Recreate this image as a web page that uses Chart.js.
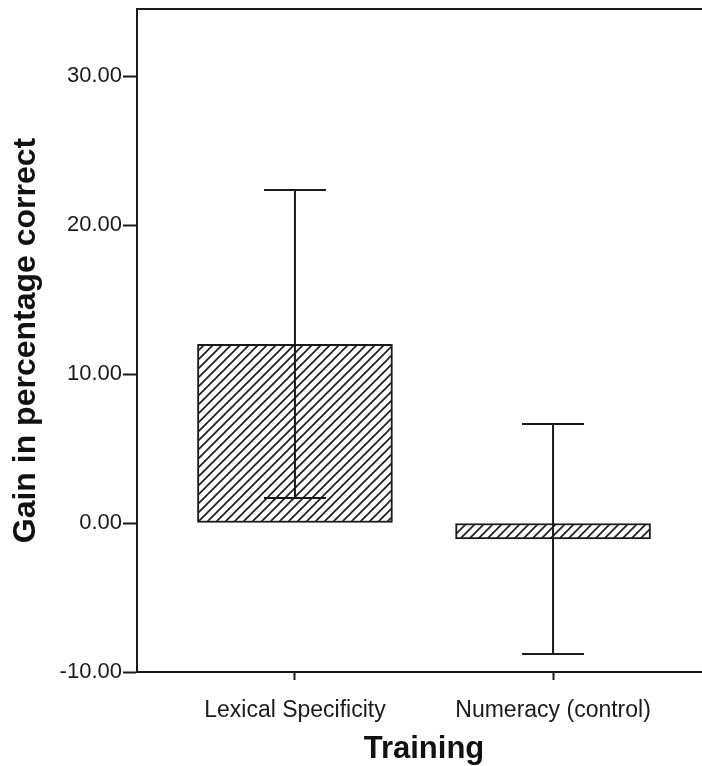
<!DOCTYPE html>
<html lang="en">
  <head>
    <meta charset="UTF-8" />
    <title>Gain by Training</title>
    <script src="https://cdn.jsdelivr.net/npm/chart.js"></script>
    <style>
      html, body {
        margin: 0;
        padding: 0;
        background: #fff;
        overflow: hidden;
      }
      #chartContainer {
        width: 720px;
        height: 766px;
      }
    </style>
  </head>
  <body>
    <div id="chartContainer">
      <canvas id="gainChart" width="720" height="766"></canvas>
    </div>

    <script>
      const categories = ["Lexical Specificity", "Numeracy (control)"];
      const meanGain = [12.0, -1.07];
      const ciLow = [1.68, -8.8];
      const ciHigh = [22.35, 6.64];
      const yTicks = [-10, 0, 10, 20, 30];

      const INK = "#1a1a1a";
      const FONT = "'Liberation Sans', Arial, Helvetica, sans-serif";

      function makeHatch() {
        const size = 9;
        const tile = document.createElement("canvas");
        tile.width = size;
        tile.height = size;
        const c = tile.getContext("2d");
        c.fillStyle = "#fff";
        c.fillRect(0, 0, size, size);
        c.strokeStyle = INK;
        c.lineWidth = 1.6;
        c.beginPath();
        c.moveTo(0, size);
        c.lineTo(size, 0);
        c.moveTo(-2, 2);
        c.lineTo(2, -2);
        c.moveTo(size - 2, size + 2);
        c.lineTo(size + 2, size - 2);
        c.stroke();
        return c.createPattern(tile, "repeat");
      }

      // error bars + top frame line
      const extrasPlugin = {
        id: "extras",
        afterDatasetsDraw(chart) {
          const { ctx, chartArea, scales } = chart;
          const xs = scales.x;
          const ys = scales.y;
          ctx.save();
          ctx.strokeStyle = INK;
          ctx.lineWidth = 2;
          ctx.beginPath();
          ctx.moveTo(chartArea.left, chartArea.top);
          ctx.lineTo(chart.width, chartArea.top);
          ctx.stroke();

          const capHalf = 31;
          categories.forEach((cat, i) => {
            const x = xs.getPixelForValue(i);
            const yLo = ys.getPixelForValue(ciLow[i]);
            const yHi = ys.getPixelForValue(ciHigh[i]);
            ctx.beginPath();
            ctx.moveTo(x, yLo);
            ctx.lineTo(x, yHi);
            ctx.moveTo(x - capHalf, yLo);
            ctx.lineTo(x + capHalf, yLo);
            ctx.moveTo(x - capHalf, yHi);
            ctx.lineTo(x + capHalf, yHi);
            ctx.stroke();
          });
          ctx.restore();
        },
      };

      const ctx = document.getElementById("gainChart").getContext("2d");
      const chart = new Chart(ctx, {
        type: "bar",
        data: {
          datasets: [
            {
              data: meanGain.map((v, i) => ({ x: i, y: v })),
              backgroundColor: makeHatch(),
              borderColor: INK,
              borderWidth: 2,
              borderSkipped: false,
              barThickness: 195,
            },
          ],
        },
        options: {
          responsive: false,
          animation: false,
          layout: {
            padding: { top: 9, right: 9, left: 0, bottom: 0 },
          },
          plugins: {
            legend: { display: false },
            tooltip: { enabled: false },
          },
          scales: {
            x: {
              type: "linear",
              min: -0.612,
              max: 1.612,
              offset: false,
              afterBuildTicks: (scale) => {
                scale.ticks = categories.map((c, i) => ({ value: i }));
              },
              afterFit: (scale) => {
                scale.height = 94;
                scale.paddingLeft = 0;
                scale.paddingRight = 0;
              },
              ticks: {
                callback: (v) => categories[v],
                color: INK,
                font: { family: FONT, size: 23 },
                padding: 17,
                maxRotation: 0,
                autoSkip: false,
              },
              grid: {
                offset: false,
                drawOnChartArea: false,
                drawTicks: true,
                tickLength: 8,
                tickWidth: 2,
                tickColor: INK,
              },
              border: { display: true, color: INK, width: 2 },
              title: {
                display: true,
                text: "Training",
                color: "#111",
                font: { family: FONT, size: 31, weight: "bold", lineHeight: 1 },
                padding: { top: 0, bottom: 1 },
              },
            },
            y: {
              min: -10,
              max: 34.5,
              afterBuildTicks: (scale) => {
                scale.ticks = yTicks.map((v) => ({ value: v }));
              },
              afterFit: (scale) => {
                scale.width = 137;
                scale.paddingTop = 0;
                scale.paddingBottom = 0;
              },
              ticks: {
                callback: (v) => Number(v).toFixed(2),
                color: INK,
                font: { family: FONT, size: 22 },
                padding: 1,
              },
              grid: {
                drawOnChartArea: false,
                drawTicks: true,
                tickLength: 14,
                tickWidth: 2,
                tickColor: INK,
              },
              border: { display: true, color: INK, width: 2 },
              title: {
                display: true,
                text: "Gain in percentage correct",
                color: "#111",
                font: { family: FONT, size: 32, weight: "bold", lineHeight: 1 },
                padding: { top: 10, bottom: 0 },
              },
            },
          },
        },
        plugins: [extrasPlugin],
      });
    </script>
  </body>
</html>
